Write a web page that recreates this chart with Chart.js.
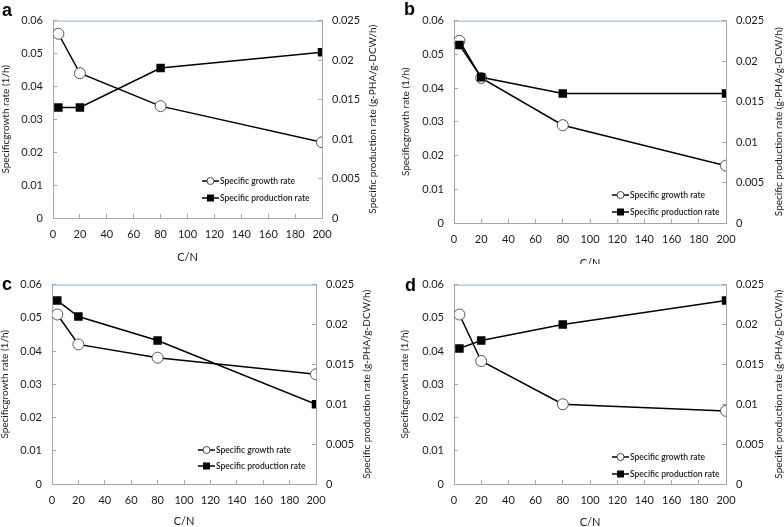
<!DOCTYPE html>
<html>
<head>
<meta charset="utf-8">
<script src="https://cdn.jsdelivr.net/npm/chart.js@4.4.1/dist/chart.umd.min.js"></script>
<style>
    body { margin: 0; background: #fff; width: 784px; height: 527px; position: relative; overflow: hidden; }
    .panel { position: absolute; }
    .tag { position: absolute; font: bold 18px "Liberation Sans", Arial, sans-serif; color: #000; line-height: 1; }
</style>
</head>
<body>
<div class="panel" style="left:0;top:0;width:392px;height:264px"><canvas id="chartA"></canvas></div>
<div class="panel" style="left:392px;top:0;width:392px;height:264px"><canvas id="chartB"></canvas></div>
<div class="panel" style="left:0;top:264px;width:392px;height:263px"><canvas id="chartC"></canvas></div>
<div class="panel" style="left:392px;top:264px;width:392px;height:263px"><canvas id="chartD"></canvas></div>
<div class="tag" style="left:2px;top:1px">a</div>
<div class="tag" style="left:404px;top:0px">b</div>
<div class="tag" style="left:2px;top:275px">c</div>
<div class="tag" style="left:405px;top:276px">d</div>
<script>
// Data (C/N ratio on x)
const cnRatio = [4, 20, 80, 200];

const growthA = [0.056, 0.044, 0.034, 0.023];
const prodA = [0.014, 0.014, 0.019, 0.021];
const growthB = [0.054, 0.043, 0.029, 0.017];
const prodB = [0.022, 0.018, 0.016, 0.016];
const growthC = [0.051, 0.042, 0.038, 0.033];
const prodC = [0.023, 0.021, 0.018, 0.010];
const growthD = [0.051, 0.037, 0.024, 0.022];
const prodD = [0.017, 0.018, 0.020, 0.023];

const xTitle = 'C/N';
const leftTitle = 'Specificgrowth rate (1/h)';
const rightTitle = 'Specific production rate (g-PHA/g-DCW/h)';
const growthLabel = 'Specific growth rate';
const prodLabel = 'Specific production rate';

// Styles
const FONT = 'Lato, "Open Sans", sans-serif';
const AXIS_GREY = '#a6a6a6';
const TEXT = '#1a1a1a';

const fmt = v => String(+v.toFixed(3));

// Draws axis titles, top blue border and the in-plot legend
const decorPlugin = {
    id: 'decor',
    afterDraw(chart, args, opts) {
        const { ctx, chartArea: a } = chart;
        ctx.save();
        // top border
        ctx.strokeStyle = '#8eb4e3';
        ctx.lineWidth = 1;
        ctx.beginPath();
        ctx.moveTo(a.left, a.top + 0.5);
        ctx.lineTo(a.right, a.top + 0.5);
        ctx.stroke();

        // axis titles
        ctx.fillStyle = TEXT;
        ctx.textAlign = 'center';
        ctx.textBaseline = 'middle';
        ctx.font = '11px ' + FONT;
        ctx.fillText(xTitle, (a.left + a.right) / 2, a.bottom + opts.bottomDy);
        ctx.font = '10px ' + FONT;
        const midY = (a.top + a.bottom) / 2;
        ctx.save();
        ctx.translate(a.left + opts.leftDx, midY);
        ctx.rotate(-Math.PI / 2);
        ctx.fillText(leftTitle, 0, 0);
        ctx.restore();
        ctx.save();
        ctx.translate(a.right + opts.rightDx, midY);
        ctx.rotate(-Math.PI / 2);
        ctx.fillText(rightTitle, 0, 0);
        ctx.restore();

        // legend
        const x0 = a.right + opts.legDx;
        const rows = [
            { y: a.bottom + opts.legDy1, label: growthLabel, style: 'circle' },
            { y: a.bottom + opts.legDy2, label: prodLabel, style: 'rect' }
        ];
        ctx.font = '600 8.5px ' + FONT;
        ctx.textAlign = 'left';
        rows.forEach(r => {
            ctx.strokeStyle = '#000';
            ctx.lineWidth = 1.5;
            ctx.beginPath();
            ctx.moveTo(x0, r.y);
            ctx.lineTo(x0 + 17, r.y);
            ctx.stroke();
            if (r.style === 'circle') {
                ctx.fillStyle = '#fff';
                ctx.strokeStyle = '#444';
                ctx.lineWidth = 1;
                ctx.beginPath();
                ctx.arc(x0 + 8.5, r.y, 3.5, 0, Math.PI * 2);
                ctx.fill();
                ctx.stroke();
            } else {
                ctx.fillStyle = '#000';
                ctx.fillRect(x0 + 5, r.y - 3.5, 7, 7);
            }
            ctx.fillStyle = TEXT;
            ctx.fillText(r.label, x0 + 18, r.y + 0.5);
        });
        ctx.restore();
    }
};

function makeChart(id, growth, prod, box) {
    const ctx = document.getElementById(id).getContext('2d');
    const tickFont = { family: FONT, size: 11 };
    const gridOpts = { display: true, drawOnChartArea: false, tickLength: -4, color: AXIS_GREY };
    return new Chart(ctx, {
        type: 'line',
        data: {
            datasets: [{
                label: growthLabel,
                data: cnRatio.map((x, i) => ({ x: x, y: growth[i] })),
                yAxisID: 'y',
                borderColor: '#000',
                borderWidth: 1.5,
                pointStyle: 'circle',
                pointRadius: 5.5,
                pointBackgroundColor: '#fff',
                pointBorderColor: '#555',
                pointBorderWidth: 1,
                order: 1
            }, {
                label: prodLabel,
                data: cnRatio.map((x, i) => ({ x: x, y: prod[i] })),
                yAxisID: 'y2',
                borderColor: '#000',
                borderWidth: 1.5,
                pointStyle: 'rect',
                pointRadius: 6,
                pointBackgroundColor: '#000',
                pointBorderColor: '#000',
                pointBorderWidth: 0,
                order: 0
            }]
        },
        options: {
            responsive: true,
            maintainAspectRatio: false,
            animation: false,
            layout: { padding: { top: box.top, left: 0, right: 0, bottom: 0 } },
            plugins: {
                legend: { display: false },
                tooltip: { enabled: false },
                decor: box.decor
            },
            scales: {
                x: {
                    type: 'linear',
                    min: 0,
                    max: 200,
                    ticks: { stepSize: 20, color: TEXT, font: tickFont, padding: 14, maxRotation: 0 },
                    grid: gridOpts,
                    border: { color: AXIS_GREY },
                    afterFit: s => { s.height = box.xh; }
                },
                y: {
                    position: 'left',
                    min: 0,
                    max: 0.06,
                    ticks: { stepSize: 0.01, color: TEXT, font: tickFont, padding: 14, callback: fmt },
                    grid: gridOpts,
                    border: { color: AXIS_GREY },
                    afterFit: s => { s.width = box.yl; }
                },
                y2: {
                    position: 'right',
                    min: 0,
                    max: 0.025,
                    ticks: { stepSize: 0.005, color: TEXT, font: tickFont, padding: 14, callback: fmt },
                    grid: gridOpts,
                    border: { color: AXIS_GREY },
                    afterFit: s => { s.width = box.yr; }
                }
            }
        },
        plugins: [decorPlugin]
    });
}

makeChart('chartA', growthA, prodA, {
    top: 7, yl: 53, yr: 70, xh: 46,
    decor: { leftDx: -47, rightDx: 51, bottomDy: 39, legDx: -120, legDy1: -37, legDy2: -20 }
});
makeChart('chartB', growthB, prodB, {
    top: 7, yl: 62, yr: 58, xh: 41,
    decor: { leftDx: -48, rightDx: 53, bottomDy: 40, legDx: -114, legDy1: -28, legDy2: -11 }
});
makeChart('chartC', growthC, prodC, {
    top: 19, yl: 52, yr: 76, xh: 43,
    decor: { leftDx: -47, rightDx: 51, bottomDy: 37, legDx: -118, legDy1: -34, legDy2: -18 }
});
makeChart('chartD', growthD, prodD, {
    top: 20, yl: 62, yr: 58, xh: 43,
    decor: { leftDx: -49, rightDx: 53, bottomDy: 38, legDx: -114, legDy1: -27, legDy2: -10 }
});
</script>
</body>
</html>
